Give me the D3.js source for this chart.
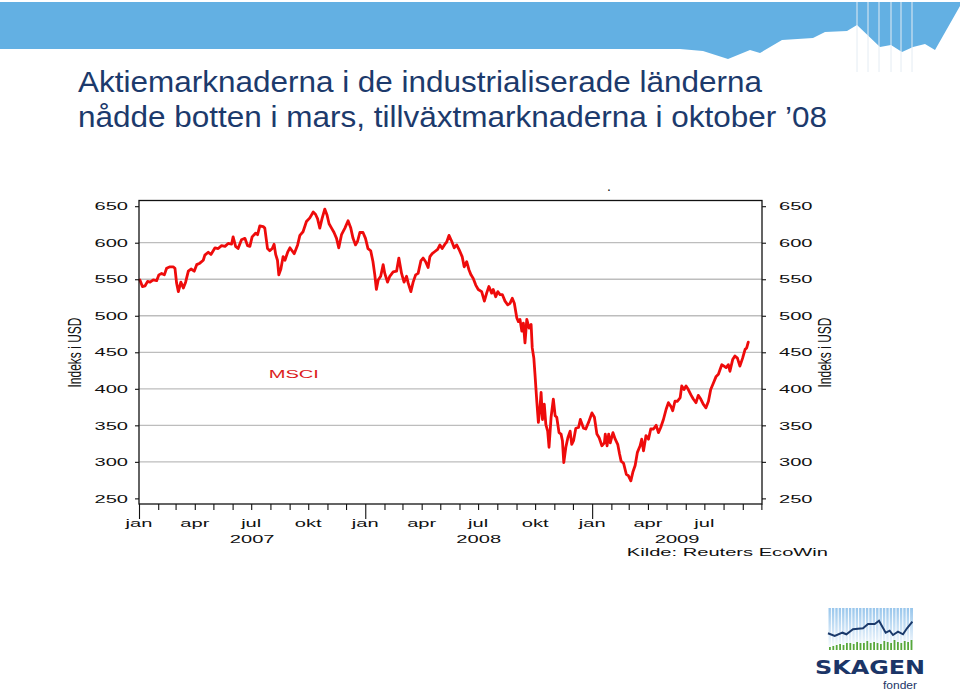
<!DOCTYPE html>
<html><head><meta charset="utf-8">
<script src="https://cdn.jsdelivr.net/npm/d3@7"></script>
<style>html,body{margin:0;padding:0;background:#fff;} svg{display:block;}</style>
</head><body>
<script>
// ---------------- DATA ----------------
// Dates as decimal years, MSCI index level in USD
const years = [
2007.004,2007.015,2007.027,2007.038,2007.049,2007.063,2007.078,2007.088,2007.100,2007.112,
2007.122,2007.137,2007.151,2007.159,2007.166,2007.174,2007.185,2007.196,2007.206,2007.218,
2007.230,2007.244,2007.255,2007.269,2007.284,2007.291,2007.306,2007.318,2007.328,2007.336,
2007.350,2007.365,2007.380,2007.394,2007.409,2007.416,2007.427,2007.438,2007.453,2007.468,
2007.480,2007.490,2007.500,2007.515,2007.524,2007.534,2007.549,2007.556,2007.568,2007.578,
2007.589,2007.597,2007.604,2007.612,2007.618,2007.627,2007.637,2007.645,2007.657,2007.667,
2007.674,2007.686,2007.701,2007.711,2007.725,2007.740,2007.755,2007.770,2007.780,2007.789,
2007.799,2007.809,2007.821,2007.831,2007.840,2007.851,2007.862,2007.873,2007.883,2007.895,
2007.910,2007.924,2007.936,2007.946,2007.957,2007.966,2007.976,2007.990,2008.001,2008.012,
2008.024,2008.034,2008.042,2008.049,2008.057,2008.068,2008.079,2008.086,2008.098,2008.108,
2008.123,2008.138,2008.148,2008.160,2008.171,2008.182,2008.189,2008.201,2008.211,2008.222,
2008.233,2008.245,2008.255,2008.266,2008.277,2008.285,2008.295,2008.307,2008.319,2008.329,
2008.339,2008.351,2008.359,2008.369,2008.381,2008.392,2008.403,2008.413,2008.427,2008.436,
2008.447,2008.457,2008.466,2008.476,2008.487,2008.498,2008.513,2008.525,2008.535,2008.545,
2008.557,2008.564,2008.575,2008.584,2008.594,2008.604,2008.616,2008.628,2008.638,2008.648,
2008.657,2008.668,2008.675,2008.682,2008.690,2008.697,2008.704,2008.712,2008.722,2008.731,
2008.736,2008.743,2008.748,2008.756,2008.763,2008.770,2008.775,2008.781,2008.789,2008.796,
2008.804,2008.810,2008.819,2008.829,2008.837,2008.844,2008.854,2008.863,2008.869,2008.875,
2008.884,2008.893,2008.903,2008.910,2008.918,2008.928,2008.940,2008.948,2008.962,2008.972,
2008.984,2008.999,2009.010,2009.021,2009.031,2009.043,2009.054,2009.058,2009.066,2009.073,
2009.080,2009.092,2009.102,2009.113,2009.121,2009.128,2009.139,2009.151,2009.160,2009.171,
2009.180,2009.190,2009.200,2009.212,2009.219,2009.227,2009.238,2009.249,2009.259,2009.271,
2009.283,2009.293,2009.303,2009.315,2009.327,2009.337,2009.348,2009.356,2009.366,2009.377,
2009.389,2009.396,2009.406,2009.415,2009.425,2009.436,2009.447,2009.459,2009.469,2009.480,
2009.491,2009.503,2009.514,2009.524,2009.536,2009.548,2009.558,2009.565,2009.573,2009.583,
2009.592,2009.602,2009.609,2009.621,2009.631,2009.642,2009.653,2009.665,2009.676,2009.683,
2009.690];
const msci = [
549,540,541,547,546,549,548,556,558,556,
565,567,567,565,545,533,546,538,546,561,
564,561,570,572,576,583,587,584,589,593,
592,596,595,599,598,608,595,592,604,606,
596,595,608,613,611,623,622,620,592,589,
592,598,584,576,556,564,581,576,587,593,
590,585,597,610,615,629,634,642,639,633,
620,633,646,638,626,620,614,606,593,611,
620,630,620,606,597,602,614,614,606,592,
589,574,556,536,549,554,570,558,546,554,
560,561,579,558,546,554,545,533,546,556,
558,575,579,574,566,581,585,588,591,597,
592,598,601,610,602,593,597,591,581,567,
574,563,556,551,542,536,533,520,531,540,
531,536,526,533,529,529,520,515,517,524,
517,497,492,495,479,490,463,495,483,488,
456,442,420,383,354,374,395,358,379,351,
342,320,361,386,363,361,340,338,329,299,
320,333,342,324,329,346,347,358,346,345,
354,367,361,338,333,322,326,338,322,338,
326,340,331,324,311,301,298,283,281,274,
286,295,313,322,331,315,336,331,345,345,
350,340,347,358,372,381,376,370,383,383,
388,404,399,404,399,392,386,381,391,386,
379,374,383,399,408,417,420,426,433,431,
429,433,424,440,445,442,431,442,454,456,
464];
const yTicks = [250,300,350,400,450,500,550,600,650];
const gridTicks = [300,350,400,450,500,550,600];
const quarterLabels = ["jan","apr","jul","okt"];
const titleLines = ["Aktiemarknaderna i de industrialiserade länderna",
                    "nådde botten i mars, tillväxtmarknaderna i oktober \u201908"];
const seriesName = "MSCI";
const axisTitle = "Indeks i USD";
const sourceText = "Kilde: Reuters EcoWin";
// logo decoration
const logoBars = [3,4,5,6,5,7,7,6,8,7,7,9,7,8,7,6,9,8,7,10,8,7,9,8,10];
const logoLine = [[0,25.3],[6.7,28],[14.4,24.7],[18.4,26.3],[25,21.3],[35,20.3],[40,16],[46.7,16],[51,12.7],[57.7,24.7],[61.7,22.7],[65,27],[70,23.7],[75,26.3],[79,20.3],[84.4,13.7]];

// ---------------- SETUP ----------------
const W = 960, H = 690;
const FONT = "'Liberation Sans', Arial, Helvetica, sans-serif";
const SX = 1.75;
const svg = d3.select("body").append("svg").attr("width", W).attr("height", H);

function toDate(t){ const y = Math.floor(t); const a = Date.UTC(y,0,1), b = Date.UTC(y+1,0,1); return new Date(a + (t-y)*(b-a)); }
const data = years.map((t,i) => ({date: toDate(t), v: msci[i]}));

function stext(parent, x, y, str, o = {}) {
  const g = parent.append("g").attr("transform", `translate(${x},${y}) scale(${o.sx ?? SX},1)`);
  return g.append("text").attr("x",0).attr("y",0)
    .attr("text-anchor", o.anchor || "start")
    .attr("font-size", o.size || 11.5)
    .attr("font-family", FONT)
    .attr("fill", o.fill || "#111")
    .text(str);
}

// ---------------- BANNER ----------------
const banner = svg.append("g");
banner.append("path")
  .attr("d", "M0,2 H960 V6 L935,50 L925,44 L913,47 L902,52 L891,45 L880,47 L857,25 L847,31 L825,32 L813,38 L782,40 L760,53 L750,50 L728,59 L703,51 L680,49 L0,49 Z")
  .attr("fill", "#63b0e3");
[857,868,879,891,901,912].forEach(xx => {
  banner.append("line").attr("x1",xx).attr("x2",xx).attr("y1",2).attr("y2",72)
    .attr("stroke","#e4ecf3").attr("stroke-width",1);
});

// ---------------- TITLE ----------------
const titleG = svg.append("g");
titleLines.forEach((t,i) => {
  titleG.append("text").attr("x",78).attr("y", 92 + i*35)
    .attr("font-family", FONT).attr("font-size", 30).attr("fill", "#1c3a6c")
    .attr("textLength", i === 0 ? 684 : 749).attr("lengthAdjust","spacingAndGlyphs")
    .text(t);
});

// ---------------- SCALES ----------------
const x = d3.scaleUtc()
  .domain([new Date(Date.UTC(2007,0,1)), new Date(Date.UTC(2009,9,2))])
  .range([139, 762]);
const y = d3.scaleLinear().domain([242.3, 657.8]).range([504, 200.5]);
const [x0, x1] = x.range();
const [yb, yt] = y.range();

// grid
svg.append("g").selectAll("line").data(gridTicks).join("line")
  .attr("x1", x0).attr("x2", x1).attr("y1", d => y(d)).attr("y2", d => y(d))
  .attr("stroke", "#bdbdbd").attr("stroke-width", 1.3);

// line
svg.append("path").datum(data)
  .attr("fill","none").attr("stroke","#ee0b0b").attr("stroke-width",2.8)
  .attr("stroke-linejoin","round").attr("stroke-linecap","round")
  .attr("d", d3.line().x(d => x(d.date)).y(d => y(d.v)));

// frame
svg.append("rect").attr("x", x0).attr("y", yt).attr("width", x1-x0).attr("height", yb-yt)
  .attr("fill","none").attr("stroke","#111").attr("stroke-width",1.3);

// y axes ticks
const yl = svg.append("g").attr("transform", `translate(${x0},0)`)
  .call(d3.axisLeft(y).tickValues(yTicks).tickSize(4).tickFormat(""));
const yr = svg.append("g").attr("transform", `translate(${x1},0)`)
  .call(d3.axisRight(y).tickValues(yTicks).tickSize(4).tickFormat(""));
[yl, yr].forEach(g => { g.select(".domain").remove(); g.selectAll("line").attr("stroke","#111").attr("stroke-width",1.1); });

yTicks.forEach(v => {
  stext(svg, 128, y(v) + 4.2, String(v), {anchor: "end"});
  stext(svg, 779, y(v) + 4.2, String(v), {anchor: "start"});
});

// x axis ticks
const xa = svg.append("g").attr("transform", `translate(0,${yb})`)
  .call(d3.axisBottom(x).ticks(d3.utcMonth.every(1)).tickSize(6).tickFormat(""));
xa.select(".domain").remove();
xa.selectAll(".tick line").attr("stroke","#111").attr("stroke-width",1.1)
  .attr("y2", d => d.getUTCMonth() === 0 ? 15 : 6);

// month labels (quarters; none at the very right edge)
const months = x.ticks(d3.utcMonth.every(3)).filter(m => x(m) < x1 - 10);
months.forEach(m => {
  stext(svg, x(m), 526.5, quarterLabels[m.getUTCMonth()/3], {anchor:"middle"});
});
// year labels centered in visible span of each year
const [d0, d1] = x.domain();
d3.utcYear.range(d3.utcYear.floor(d0), d1).forEach(yy => {
  const a = Math.max(+yy, +d0), b = Math.min(+d3.utcYear.offset(yy,1), +d1);
  stext(svg, (x(new Date(a)) + x(new Date(b))) / 2, 543, String(yy.getUTCFullYear()), {anchor:"middle"});
});
stext(svg, 828, 556, sourceText, {anchor:"end"});

// series label
stext(svg, x(toDate(2007.684)), y(414.5), seriesName, {anchor:"middle", fill:"#dc1c1c"});

// stray dot above chart
svg.append("text").attr("x", 607).attr("y", 191).attr("font-family", FONT).attr("font-size", 14).attr("fill","#111").text(".");

// axis titles (condensed)
[[81, 352.5], [831, 352.5]].forEach(([ax, ay]) => {
  svg.append("text").attr("transform", `translate(${ax},${ay}) rotate(-90)`)
    .attr("text-anchor","middle").attr("font-family", FONT).attr("font-size", 18).attr("fill","#111")
    .attr("textLength", 70).attr("lengthAdjust","spacingAndGlyphs")
    .text(axisTitle);
});

// ---------------- LOGO ----------------
const defs = svg.append("defs");
const grad = defs.append("linearGradient").attr("id","lg").attr("x1",0).attr("x2",0).attr("y1",0).attr("y2",1);
grad.append("stop").attr("offset","0%").attr("stop-color","#98c6ec");
grad.append("stop").attr("offset","100%").attr("stop-color","#ffffff");
const logo = svg.append("g").attr("transform","translate(828,608)");
logo.append("rect").attr("width",85).attr("height",42).attr("fill","url(#lg)");
d3.range(0, 85, 3.4).forEach(gx => {
  logo.append("line").attr("x1",gx).attr("x2",gx).attr("y1",0).attr("y2",42).attr("stroke","#fff").attr("stroke-width",1);
});
logoBars.forEach((h,i) => {
  logo.append("rect").attr("x", 1 + i*3.4).attr("y", 42-h).attr("width", 1.8).attr("height", h).attr("fill","#57a83a");
});
logo.append("path").attr("d", d3.line()(logoLine)).attr("fill","none").attr("stroke","#1b3a6b").attr("stroke-width",2);
svg.append("text").attr("x",815).attr("y",674).attr("font-family", "'DejaVu Sans', " + FONT).attr("font-weight","bold")
  .attr("font-size",20).attr("fill","#1b3567").attr("textLength",110).attr("lengthAdjust","spacingAndGlyphs").text("SKAGEN");
svg.append("text").attr("x",883).attr("y",689).attr("font-family", FONT)
  .attr("font-size",10).attr("fill","#1b3567").attr("textLength",34).attr("lengthAdjust","spacingAndGlyphs").text("fonder");
</script>
</body></html>
